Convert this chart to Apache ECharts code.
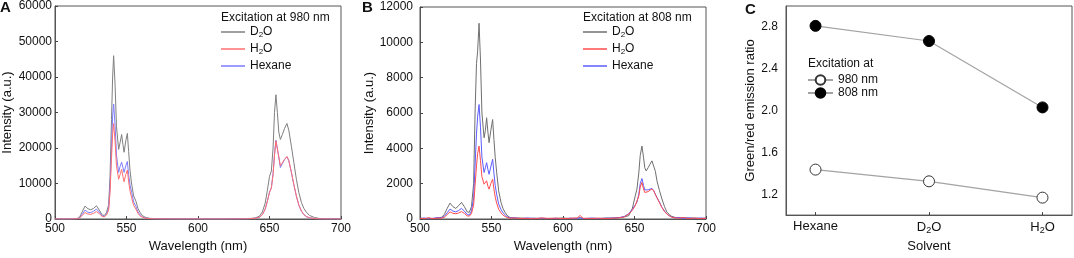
<!DOCTYPE html>
<html>
<head>
<meta charset="utf-8">
<script src="https://cdn.jsdelivr.net/npm/echarts@6/dist/echarts.min.js"></script>
<style>
  html, body { margin: 0; padding: 0; background: #fff; }
  #chart { width: 1074px; height: 258px; }
</style>
</head>
<body>
<div id="chart"></div>
<script>
// panel A, excitation at 980 nm
const wlA = [
  500, 510, 515, 517, 519, 521, 523, 525, 527, 529, 531, 533,
  534.5, 536, 537.5, 538.5, 539.5, 540.3, 541, 542, 543, 544.5, 545.5, 546.6, 547.5, 548.3, 549.5, 550.6,
  551.5, 552.5, 553.6, 555, 556.6, 558, 559.4, 561, 563, 566, 570, 580, 600, 620,
  635, 640, 643, 645, 647, 648.5, 650, 651.3, 652.5, 653.5, 654.5, 655.5, 656.5, 657.6, 659,
  660.5, 662.2, 663.5, 665.3, 667, 668.8, 670.5, 672.3, 674, 675.8, 678, 681.6, 685, 690, 700
];
const d2oA = [
  0, 0, 100, 400, 2000, 3640, 2900, 2600, 3000, 3730, 2500, 1100,
  1000, 1800, 4000, 12000, 28000, 40000, 46000, 38000, 26000, 19600, 21500, 23800, 21000, 18800, 22000, 24100,
  19000, 13500, 9800, 6500, 5000, 3000, 1900, 1000, 500, 200, 80, 30, 0, 0,
  100, 300, 800, 2000, 4500, 8000, 12000, 13500, 20000, 30000, 35000, 30000, 24500, 22400, 23800,
  25500, 26900, 25000, 20500, 16000, 11200, 7500, 4700, 3000, 1900, 1000, 400, 150, 50, 0
];
const h2oA = [
  0, 0, 50, 200, 1000, 1800, 1400, 1300, 1600, 2100, 1500, 700,
  650, 1100, 2500, 7500, 17000, 24000, 26900, 22000, 15000, 11200, 12500, 14000, 12000, 10500, 12500, 13800,
  10500, 7800, 6000, 3800, 2800, 1600, 900, 500, 250, 100, 40, 10, 0, 0,
  50, 200, 500, 1200, 2800, 5000, 7500, 8700, 12500, 18000, 22000, 22500, 17500, 15000, 15800,
  16800, 17600, 16500, 13200, 9800, 6500, 4000, 2300, 1300, 700, 350, 120, 40, 10, 0
];
const hexA = [
  0, 0, 60, 250, 1300, 2500, 1900, 1800, 2200, 2800, 1900, 850,
  750, 1300, 3000, 9000, 20000, 29000, 32400, 26500, 18000, 13100, 14800, 16000, 14500, 13100, 15000, 16200,
  12500, 9500, 7500, 4800, 3500, 2000, 1200, 600, 300, 120, 50, 10, 0, 0,
  50, 200, 500, 1200, 2800, 5000, 7600, 8800, 12800, 18200, 22200, 22700, 17500, 14500, 15600,
  16700, 17500, 16400, 13100, 9700, 6400, 3900, 2200, 1250, 650, 320, 110, 40, 10, 0
];

// panel B, excitation at 808 nm
const wlB = [
  500, 503, 506, 509, 512, 515, 517, 519, 521, 523, 525, 527, 529, 531, 533,
  534.5, 536, 537.5, 538.5, 539.5, 540.3, 541.3, 542.3, 543.3, 544.8, 545.7, 546.6, 547.5, 548.3, 549.5, 550.8,
  551.7, 552.6, 553.6, 555, 556.6, 558, 559.4, 561, 563, 566, 570, 575, 580, 585, 590, 595, 600, 605, 610, 612, 614, 620, 625, 630, 635, 640,
  643, 646, 648.5, 650.5, 651.7, 653, 654, 655.2, 656.3, 657.2, 658.2, 659.5, 660.8, 662.2,
  663.5, 664.6, 665.7, 667.5, 669.2, 671, 672.7, 674.5, 676, 678, 681, 684, 688, 692, 696, 700
];
const d2oB = [
  60, 20, 50, 10, 40, 100, 250, 600, 900, 700, 600, 750, 940, 700, 400,
  380, 700, 2000, 6000, 8800, 9500, 11080, 9000, 6000, 4600, 5000, 5730, 4900, 4320, 5000, 5630,
  4500, 3500, 2650, 1600, 950, 600, 390, 200, 80, 40, 60, 20, 50, 10, 40, 30, 60, 20, 40, 80, 30, 40, 20, 60, 40, 80,
  120, 190, 600, 1300, 1690, 2600, 3600, 4130, 3500, 2900, 2720, 2900, 3100, 3290,
  3200, 2700, 2160, 1600, 1130, 700, 380, 250, 150, 100, 60, 80, 40, 60, 30, 50
];
const h2oB = [
  40, 10, 70, 20, 50, 40, 100, 250, 400, 320, 300, 340, 420, 320, 180,
  160, 300, 800, 1900, 3000, 3700, 4130, 3300, 2400, 1970, 2050, 2160, 1850, 1690, 2000, 2250,
  1700, 1250, 900, 550, 350, 220, 150, 80, 40, 60, 30, 40, 10, 60, 30, 50, 20, 40, 60, 200, 40, 30, 50, 20, 50, 70,
  130, 280, 500, 750, 850, 1300, 1800, 2070, 1700, 1500, 1450, 1550, 1650, 1700,
  1580, 1380, 1200, 920, 640, 420, 270, 170, 100, 70, 40, 80, 30, 50, 20, 40
];
const hexB = [
  20, 60, 10, 40, 80, 60, 150, 350, 560, 450, 400, 480, 600, 450, 250,
  220, 450, 1200, 3000, 4800, 5800, 6480, 5200, 3500, 2630, 2900, 3190, 2800, 2530, 2950, 3380,
  2600, 1900, 1400, 850, 550, 350, 250, 120, 50, 80, 20, 60, 30, 50, 20, 40, 10, 50, 30, 60, 20, 50, 30, 40, 60, 90,
  150, 300, 550, 800, 950, 1400, 2000, 2290, 1900, 1650, 1600, 1650, 1700, 1730,
  1600, 1400, 1220, 950, 660, 450, 280, 180, 120, 60, 90, 30, 70, 20, 60, 30
];

// panel C, green/red ratio
const solvents = ['Hexane', 'D2O', 'H2O'];
const ratio980 = [1.435, 1.323, 1.167];
const ratio808 = [2.81, 2.665, 2.03];
const ratioTicks = [1.2, 1.6, 2.0, 2.4, 2.8];

const FONT = 'Liberation Sans, Arial, sans-serif';
const rich = {
  n: { fontSize: 12, fontFamily: FONT, color: '#111' },
  s: { fontSize: 8, fontFamily: FONT, color: '#111', padding: [6, 0, 0, 0] }
};
const richC = {
  n: { fontSize: 13, fontFamily: FONT, color: '#111' },
  s: { fontSize: 9, fontFamily: FONT, color: '#111', padding: [6, 0, 0, 0] }
};
// D2O -> D{s|2}O
function chem(name) {
  const m = name.match(/^([A-Z])2(O)$/);
  if (m) return '{n|' + m[1] + '}{s|2}{n|' + m[2] + '}';
  return '{n|' + name + '}';
}

function pairs(xs, ys) {
  return xs.map((x, i) => [x, ys[i]]);
}

const gridBase = { show: true, borderColor: '#555', borderWidth: 1 };
const axisLine = { onZero: false, lineStyle: { color: '#555', width: 1 } };
const tick = { inside: true, length: 3, lineStyle: { color: '#444' } };
const label = { fontSize: 12, fontFamily: FONT, color: '#111' };
const nameStyle = { fontSize: 13, fontFamily: FONT, color: '#111' };

function spectrumX(idx) {
  return {
    type: 'value', gridIndex: idx, min: 500, max: 700, interval: 50,
    axisLine: axisLine, axisTick: tick, splitLine: { show: false },
    axisLabel: Object.assign({ margin: 4, formatter: v => String(v) }, label),
    name: 'Wavelength (nm)', nameLocation: 'middle', nameGap: 21, nameTextStyle: nameStyle
  };
}
function spectrumY(idx, max, interval, margin, gap) {
  return {
    type: 'value', gridIndex: idx, min: 0, max: max, interval: interval,
    axisLine: Object.assign({ show: true }, axisLine), axisTick: Object.assign({ show: true }, tick),
    splitLine: { show: false },
    axisLabel: Object.assign({ margin: margin, formatter: v => String(v) }, label),
    name: 'Intensity (a.u.)', nameLocation: 'middle', nameGap: gap, nameTextStyle: nameStyle
  };
}
function spectrumLine(name, idx, xs, ys, color) {
  return {
    name: name, type: 'line', xAxisIndex: idx, yAxisIndex: idx,
    data: pairs(xs, ys), showSymbol: false, symbol: 'none',
    lineStyle: { color: color, width: 1 }, itemStyle: { color: color }
  };
}
function spectrumLegend(left, tag) {
  return {
    left: left, top: 26, orient: 'vertical', padding: 0,
    icon: 'rect', itemWidth: 24, itemHeight: 1.5, itemGap: 4,
    selectedMode: false,
    data: ['D2O|' + tag, 'H2O|' + tag, 'Hexane|' + tag],
    formatter: n => chem(n.split('|')[0]),
    textStyle: { rich: rich }
  };
}

const chart = echarts.init(document.getElementById('chart'));
chart.setOption({
  animation: false,
  textStyle: { fontFamily: FONT },
  title: [
    { text: 'A', left: 0, top: 0, padding: 0, textStyle: { fontSize: 15, fontWeight: 'bold', color: '#111' } },
    { text: 'B', left: 362, top: 0, padding: 0, textStyle: { fontSize: 15, fontWeight: 'bold', color: '#111' } },
    { text: 'C', left: 745, top: 2, padding: 0, textStyle: { fontSize: 15, fontWeight: 'bold', color: '#111' } },
    { text: 'Excitation at 980 nm', left: 221, top: 12, padding: 0, textStyle: { fontSize: 12, fontWeight: 'normal', color: '#111' } },
    { text: 'Excitation at 808 nm', left: 583, top: 12, padding: 0, textStyle: { fontSize: 12, fontWeight: 'normal', color: '#111' } },
    { text: 'Excitation at', left: 808, top: 58, padding: 0, textStyle: { fontSize: 12, fontWeight: 'normal', color: '#111' } }
  ],
  legend: [
    spectrumLegend(221, 'A'),
    spectrumLegend(583, 'B'),
    {
      left: 807, top: 74, orient: 'vertical', padding: 0,
      itemWidth: 25, itemHeight: 12, itemGap: 1, selectedMode: false,
      data: ['980 nm', '808 nm'],
      textStyle: { fontSize: 12, color: '#111' }
    }
  ],
  grid: [
    Object.assign({ left: 55, top: 6, width: 286, height: 214 }, gridBase),
    Object.assign({ left: 420, top: 7, width: 286, height: 213 }, gridBase),
    Object.assign({ left: 786, top: 6, width: 286, height: 214 }, gridBase)
  ],
  xAxis: [
    spectrumX(0),
    spectrumX(1),
    {
      type: 'value', gridIndex: 2, min: -0.26, max: 2.26,
      axisLine: axisLine, splitLine: { show: false },
      axisTick: Object.assign({ customValues: [0, 1, 2] }, tick),
      axisLabel: {
        customValues: [0, 1, 2], margin: 5,
        formatter: v => chem(solvents[Math.round(v)]), rich: richC
      },
      name: 'Solvent', nameLocation: 'middle', nameGap: 21, nameTextStyle: nameStyle
    }
  ],
  yAxis: [
    spectrumY(0, 60000, 10000, 3, 41),
    spectrumY(1, 12000, 2000, 7, 42),
    {
      type: 'value', gridIndex: 2, min: 1.0, max: 3.0,
      axisLine: Object.assign({ show: true }, axisLine), axisTick: { show: false },
      splitLine: { show: false },
      axisLabel: Object.assign({ customValues: ratioTicks, margin: 8, formatter: v => v.toFixed(1) }, label),
      name: 'Green/red emission ratio', nameLocation: 'middle', nameGap: 27, nameTextStyle: nameStyle
    }
  ],
  series: [
    spectrumLine('D2O|A', 0, wlA, d2oA, '#7f7f7f'),
    spectrumLine('Hexane|A', 0, wlA, hexA, '#7c7cff'),
    spectrumLine('H2O|A', 0, wlA, h2oA, '#ff6e6e'),
    spectrumLine('D2O|B', 1, wlB, d2oB, '#6f6f6f'),
    spectrumLine('Hexane|B', 1, wlB, hexB, '#5c5cff'),
    spectrumLine('H2O|B', 1, wlB, h2oB, '#ff4d4d'),
    {
      name: '980 nm', type: 'line', xAxisIndex: 2, yAxisIndex: 2,
      data: ratio980.map((v, i) => [i, v]),
      symbol: 'circle', symbolSize: 11,
      lineStyle: { color: '#a3a3a3', width: 1.2 },
      itemStyle: { color: '#fff', borderColor: '#333', borderWidth: 1 }
    },
    {
      name: '808 nm', type: 'line', xAxisIndex: 2, yAxisIndex: 2,
      data: ratio808.map((v, i) => [i, v]),
      symbol: 'circle', symbolSize: 11,
      lineStyle: { color: '#a3a3a3', width: 1.2 },
      itemStyle: { color: '#000', borderColor: '#000', borderWidth: 1 }
    }
  ]
});
</script>
</body>
</html>
